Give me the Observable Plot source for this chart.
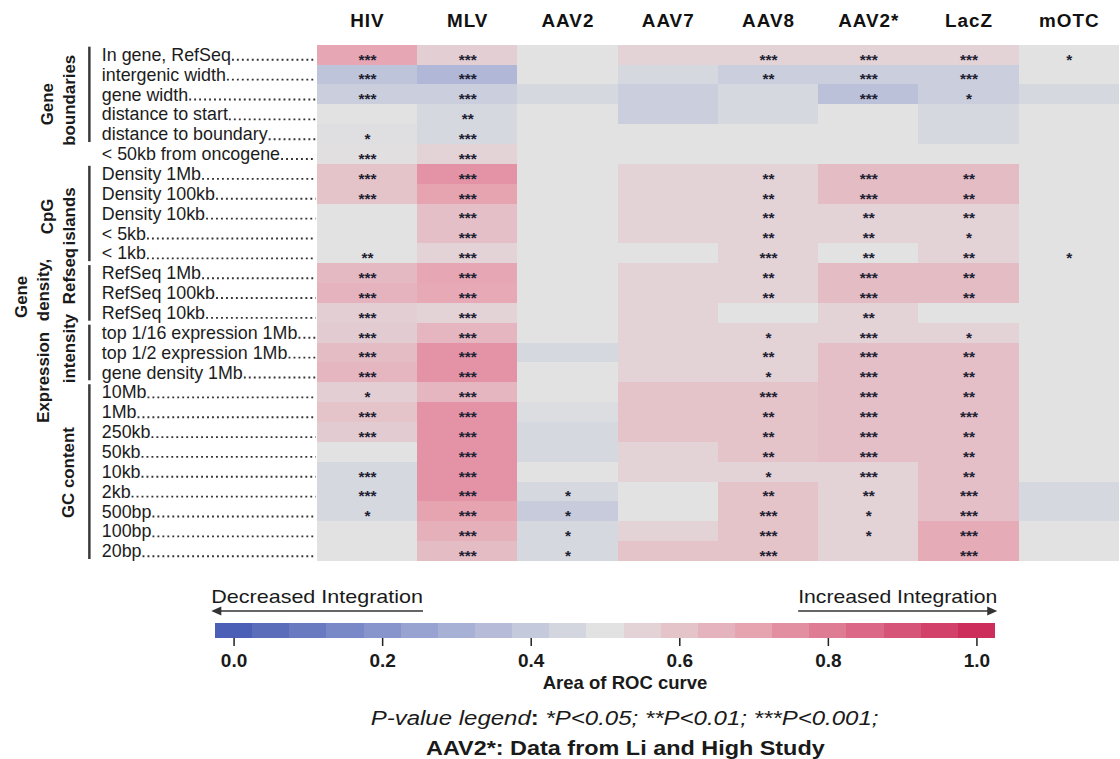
<!DOCTYPE html>
<html><head><meta charset="utf-8">
<script src="https://cdn.jsdelivr.net/npm/d3@7"></script>
<script src="https://cdn.jsdelivr.net/npm/@observablehq/plot@0.6"></script>
<style>
html,body{margin:0;padding:0;background:#fff;overflow:hidden;}
body{width:1120px;height:759px;position:relative;font-family:"Liberation Sans",Arial,sans-serif;color:#1a1a1a;}
#heat{position:absolute;left:0;top:0;}
#legend{position:absolute;left:0;top:578px;}
.cap{position:absolute;left:0;width:1250px;text-align:center;white-space:nowrap;line-height:1;}
.cap span{display:inline-block;transform-origin:center;}
</style></head><body>
<div id="heat"></div>
<div id="legend"></div>
<div class="cap" style="top:674px;font-size:18.5px;font-weight:bold;"><span>Area of ROC curve</span></div>
<div class="cap" style="top:708px;font-size:20px;"><span style="transform:scaleX(1.2)"><i>P-value legend</i><b>:</b> <i>*P&lt;0.05; **P&lt;0.01; ***P&lt;0.001;</i></span></div>
<div class="cap" style="top:738px;font-size:20px;font-weight:bold;"><span style="transform:scaleX(1.17)">AAV2*: Data from Li and High Study</span></div>
<script>
// ---------- data ----------
const columns = ["HIV", "MLV", "AAV2", "AAV7", "AAV8", "AAV2*", "LacZ", "mOTC"];
const rows = [
  "In gene, RefSeq", "intergenic width", "gene width", "distance to start", "distance to boundary",
  "< 50kb from oncogene", "Density 1Mb", "Density 100kb", "Density 10kb", "< 5kb", "< 1kb",
  "RefSeq 1Mb", "RefSeq 100kb", "RefSeq 10kb", "top 1/16 expression 1Mb", "top 1/2 expression 1Mb",
  "gene density 1Mb", "10Mb", "1Mb", "250kb", "50kb", "10kb", "2kb", "500bp", "100bp", "20bp"
];
const groups = [
  {lines: ["Gene", "boundaries"], from: "In gene, RefSeq", to: "distance to boundary"},
  {lines: ["CpG", "islands"], from: "Density 1Mb", to: "< 1kb"},
  {lines: ["Gene", "density,", "Refseq"], from: "RefSeq 1Mb", to: "RefSeq 10kb"},
  {lines: ["Expression", "intensity"], from: "top 1/16 expression 1Mb", to: "gene density 1Mb"},
  {lines: ["GC content"], from: "10Mb", to: "20bp"}
];
// Area of ROC curve per column (row order as above)
const aucHIV  = [0.69,0.38,0.42,0.50,0.49,0.51,0.60,0.60,0.50,0.50,0.50,0.63,0.65,0.56,0.57,0.62,0.64,0.56,0.60,0.57,0.50,0.46,0.46,0.46,0.50,0.50];
const aucMLV  = [0.56,0.33,0.42,0.46,0.46,0.55,0.74,0.70,0.61,0.61,0.55,0.69,0.68,0.55,0.64,0.74,0.74,0.64,0.74,0.74,0.74,0.74,0.74,0.70,0.66,0.62];
const aucAAV2 = [0.50,0.50,0.46,0.50,0.50,0.50,0.50,0.50,0.50,0.50,0.50,0.50,0.50,0.50,0.50,0.46,0.50,0.50,0.48,0.46,0.46,0.50,0.46,0.41,0.46,0.46];
const aucAAV7 = [0.55,0.46,0.42,0.42,0.50,0.50,0.55,0.55,0.55,0.55,0.50,0.55,0.55,0.55,0.55,0.55,0.55,0.60,0.60,0.60,0.55,0.55,0.50,0.50,0.55,0.60];
const aucAAV8 = [0.55,0.42,0.46,0.46,0.50,0.50,0.55,0.55,0.55,0.55,0.55,0.55,0.55,0.50,0.55,0.55,0.55,0.60,0.60,0.60,0.60,0.55,0.60,0.60,0.60,0.60];
const aucAAV2s= [0.55,0.42,0.37,0.50,0.50,0.50,0.62,0.62,0.55,0.55,0.50,0.62,0.62,0.55,0.55,0.61,0.61,0.61,0.61,0.61,0.61,0.55,0.55,0.55,0.55,0.55];
const aucLacZ = [0.55,0.42,0.42,0.46,0.46,0.50,0.62,0.62,0.55,0.55,0.55,0.62,0.62,0.50,0.55,0.61,0.61,0.61,0.61,0.61,0.61,0.61,0.61,0.61,0.67,0.67];
const aucmOTC = [0.50,0.50,0.46,0.50,0.50,0.50,0.50,0.50,0.50,0.50,0.50,0.50,0.50,0.50,0.50,0.50,0.50,0.50,0.50,0.50,0.50,0.50,0.46,0.46,0.50,0.50];
// significance stars per column
const sigHIV  = ["***","***","***","","*","***","***","***","","","**","***","***","***","***","***","***","*","***","***","","***","***","*","",""];
const sigMLV  = ["***","***","***","**","***","***","***","***","***","***","***","***","***","***","***","***","***","***","***","***","***","***","***","***","***","***"];
const sigAAV2 = ["","","","","","","","","","","","","","","","","","","","","","","*","*","*","*"];
const sigAAV7 = ["","","","","","","","","","","","","","","","","","","","","","","","","",""];
const sigAAV8 = ["***","**","","","","","**","**","**","**","***","**","**","","*","**","*","***","**","**","**","*","**","***","***","***"];
const sigAAV2s= ["***","***","***","","","","***","***","**","**","**","***","***","**","***","***","***","***","***","***","***","***","**","*","*",""];
const sigLacZ = ["***","***","*","","","","**","**","**","*","**","**","**","","*","**","**","**","***","**","**","**","***","***","***","***"];
const sigmOTC = ["*","","","","","","","","","","*","","","","","","","","","","","","","","",""];
// legend
const legendSteps = [0,0.05,0.1,0.15,0.2,0.25,0.3,0.35,0.4,0.45,0.5,0.55,0.6,0.65,0.7,0.75,0.8,0.85,0.9,0.95,1];
const legendTicks = [0, 0.2, 0.4, 0.6, 0.8, 1.0];
const arrowDecreased = {label: "Decreased Integration", from: 0.255, to: -0.03};
const arrowIncreased = {label: "Increased Integration", from: 0.76, to: 1.028};

// ---------- build ----------
const aucs = [aucHIV, aucMLV, aucAAV2, aucAAV7, aucAAV8, aucAAV2s, aucLacZ, aucmOTC];
const sigs = [sigHIV, sigMLV, sigAAV2, sigAAV7, sigAAV8, sigAAV2s, sigLacZ, sigmOTC];
const cells = [];
columns.forEach((c, j) => rows.forEach((r, i) => cells.push({col: c, row: r, auc: aucs[j][i], sig: sigs[j][i]})));

const FONT = "'Liberation Sans', Arial, Helvetica, sans-serif";
const LABEL_SIZE = 18, LABEL_OFFSET = 216;
const colorScale = {
  type: "linear", interpolate: "rgb",
  domain: [0, 0.25, 0.5, 0.7, 1],
  range: ["#4a5fb5", "#98a3d2", "#e2e2e2", "#e6a3b0", "#cd2d5b"]
};

// group label layout (styling)
const groupStyle = [
  {x: [47, 70], dy: [10, 6]},
  {x: [47, 70], dy: [3, 3]},
  {x: [21, 43, 70], dy: [4, -3, -17]},
  {x: [43, 70], dy: [25, -4]},
  {x: [69], dy: [1]}
];
const barX = 90;

function groupMark(index, scales) {
  const y = scales.y;
  const bw = y(rows[1]) - y(rows[0]);
  const g = d3.create("svg:g").attr("font-family", FONT).attr("fill", "#1a1a1a");
  groups.forEach((grp, gi) => {
    const y0 = y(grp.from), y1 = y(grp.to) + bw;
    g.append("line").attr("x1", barX).attr("x2", barX)
      .attr("y1", y0 + 2).attr("y2", y1 - 2)
      .attr("stroke", "#3a3a3a").attr("stroke-width", 2.5);
    const st = groupStyle[gi];
    grp.lines.forEach((t, k) => {
      const cy = (y0 + y1) / 2 + st.dy[k];
      g.append("text")
        .attr("transform", `translate(${st.x[k]},${cy}) rotate(-90)`)
        .attr("text-anchor", "middle").attr("dy", "0.35em")
        .attr("font-weight", "bold").attr("font-size", 17)
        .text(t);
    });
  });
  return g.node();
}

// dotted leaders from the end of each row label to the heatmap
const measureCtx = document.createElement("canvas").getContext("2d");
measureCtx.font = `${LABEL_SIZE}px 'Liberation Sans', Arial, sans-serif`;
function leaderMark(index, scales, values, dims) {
  const y = scales.y;
  const bw = y(rows[1]) - y(rows[0]);
  const g = d3.create("svg:g").attr("stroke", "#333").attr("stroke-width", 1.9)
    .attr("stroke-dasharray", "1.9 3.1");
  const xStart = dims.marginLeft - LABEL_OFFSET;
  rows.forEach(r => {
    const w = measureCtx.measureText(r).width;
    const yy = y(r) + bw / 2 + 5.2;
    g.append("line").attr("x1", xStart + w + 1.5).attr("x2", dims.marginLeft)
      .attr("y1", yy).attr("y2", yy);
  });
  return g.node();
}

const heat = Plot.plot({
  width: 1128, height: 578,
  marginLeft: 318, marginRight: 0, marginTop: 36, marginBottom: 5,
  style: {fontFamily: FONT, background: "transparent", overflow: "visible"},
  x: {domain: columns, padding: 0, axis: "top", tickSize: 0, tickPadding: 9, label: null},
  y: {domain: rows, padding: 0, axis: null},
  color: colorScale,
  marks: [
    Plot.text(rows, {y: d => d, text: d => d, frameAnchor: "left", dx: -LABEL_OFFSET,
      textAnchor: "start", fontSize: LABEL_SIZE, fill: "#1c1c1c", ariaLabel: "row label"}),
    leaderMark,
    Plot.cell(cells, {x: "col", y: "row", fill: "auc", inset: 0, shapeRendering: "crispEdges"}),
    Plot.text(cells.filter(d => d.sig), {x: "col", y: "row", text: "sig", fontSize: 15.5,
      fontWeight: "bold", fill: "#1d2132", dy: 4.5, ariaLabel: "stars"}),
    groupMark
  ]
});
d3.select(heat).selectAll('[aria-label="x-axis tick label"]')
  .attr("font-weight", "bold").attr("font-size", 19).attr("fill", "#111").style("letter-spacing", "1px");
d3.select(heat).selectAll('[aria-label="stars"] text').style("letter-spacing", "2px");
document.getElementById("heat").append(heat);

function arrowMark(index, scales) {
  const x = scales.x;
  const g = d3.create("svg:g").attr("font-family", FONT).attr("fill", "#1a1a1a");
  const ay = 33, ty = 18;
  [arrowDecreased, arrowIncreased].forEach(a => {
    const x1 = x(a.from), x2 = x(a.to);
    const dir = Math.sign(x2 - x1);
    g.append("line").attr("x1", x1).attr("x2", x2 - dir * 2).attr("y1", ay).attr("y2", ay)
      .attr("stroke", "#333").attr("stroke-width", 1.5);
    g.append("path").attr("d", `M${x2},${ay} L${x2 - dir * 10},${ay - 4.5} L${x2 - dir * 10},${ay + 4.5} Z`)
      .attr("fill", "#333");
    g.append("text").attr("x", Math.min(x1, x2)).attr("y", ty).attr("dy", "0.35em")
      .attr("text-anchor", "start").attr("font-size", 19)
      .attr("textLength", Math.abs(x2 - x1)).attr("lengthAdjust", "spacingAndGlyphs")
      .text(a.label);
  });
  return g.node();
}

const legend = Plot.plot({
  width: 1120, height: 96,
  marginLeft: 215, marginRight: 125, marginTop: 45, marginBottom: 36,
  style: {fontFamily: FONT, background: "transparent", overflow: "visible"},
  x: {domain: [-0.025, 1.025], axis: null},
  color: colorScale,
  marks: [
    Plot.rect(legendSteps, {x1: d => d - 0.025, x2: d => d + 0.025, fill: d => d, shapeRendering: "crispEdges"}),
    Plot.axisX({ticks: legendTicks, tickFormat: ".1f", tickSize: 8, tickPadding: 7, fontSize: 19,
      label: null, stroke: "#222", strokeWidth: 1.5}),
    arrowMark
  ]
});
d3.select(legend).selectAll('[aria-label="x-axis tick label"]').attr("font-size", 19)
  .attr("font-weight", "bold").attr("fill", "#1a1a1a");
document.getElementById("legend").append(legend);
</script>
</body></html>
